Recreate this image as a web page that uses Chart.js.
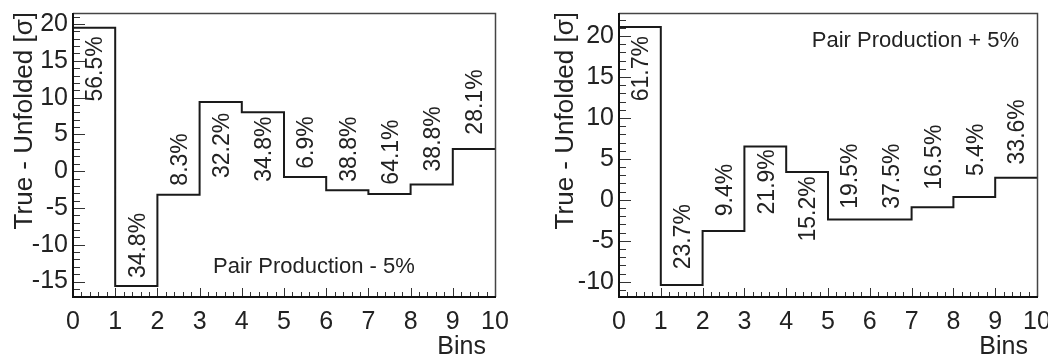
<!DOCTYPE html>
<html><head><meta charset="utf-8">
<script src="https://cdn.jsdelivr.net/npm/chart.js@4.4.1/dist/chart.umd.min.js"></script>
<style>
html,body{margin:0;padding:0;background:#fff;}
#wrap{position:relative;width:1048px;height:360px;overflow:hidden;background:#fff;}
.box{position:absolute;top:0;height:360px;}
</style></head><body>
<div id="wrap">
<div class="box" style="left:0;width:530px"><canvas id="c1" width="530" height="360"></canvas></div>
<div class="box" style="left:530px;width:518px"><canvas id="c2" width="518" height="360"></canvas></div>
</div>
<script>
// ---- data ----
const binEdges = [0,1,2,3,4,5,6,7,8,9,10];
const xTickLabels = ['0','1','2','3','4','5','6','7','8','9','10'];

const leftValues   = [19.5, -15.6, -3.2, 9.4, 8.0, -0.8, -2.6, -3.1, -1.8, 3.0];
const leftPercents = ['56.5%','34.8%','8.3%','32.2%','34.8%','6.9%','38.8%','64.1%','38.8%','28.1%'];
const leftLabelY   = [13.9, -10.1, 1.6, 3.5, 3.0, 3.9, 3.0, 2.6, 4.4, 9.4];
const leftYTicks   = [-15,-10,-5,0,5,10,15,20];
const leftYTickLabels = ['-15','-10','-5','0','5','10','15','20'];
const leftNote = 'Pair Production - 5%';

const rightValues   = [21.1, -10.4, -3.8, 6.5, 3.4, -2.4, -2.4, -0.9, 0.35, 2.7];
const rightPercents = ['61.7%','23.7%','9.4%','21.9%','15.2%','19.5%','37.5%','16.5%','5.4%','33.6%'];
const rightLabelY   = [16.0, -4.5, 1.2, 2.2, -1.1, 2.9, 2.9, 5.2, 6.1, 8.3];
const rightYTicks   = [-10,-5,0,5,10,15,20];
const rightYTickLabels = ['-10','-5','0','5','10','15','20'];
const rightNote = 'Pair Production + 5%';

const yTitle = 'True - Unfolded [\u03c3]';
const xTitle = 'Bins';

const FONT = '"Liberation Sans", Arial, Helvetica, sans-serif';
const TXT = '#222';

function makeChart(id, o) {
  const pts = binEdges.map((b, i) => ({x: b, y: o.values[Math.min(i, o.values.length - 1)]}));
  const decor = {
    id: 'decor',
    afterDatasetsDraw(chart) {
      const ctx = chart.ctx, ca = chart.chartArea, xs = chart.scales.x, ys = chart.scales.y;
      ctx.save();
      // ticks
      ctx.strokeStyle = '#333'; ctx.lineWidth = 1;
      ctx.beginPath();
      for (let v = Math.ceil(ys.min); v <= ys.max; v++) {
        const py = Math.round(ys.getPixelForValue(v)) + 0.5;
        const len = (v % 5 === 0) ? 12 : 7;
        ctx.moveTo(ca.left, py); ctx.lineTo(ca.left + len, py);
      }
      for (let k = 0; k <= 50; k++) {
        const v = k * 0.2;
        const px = Math.round(xs.getPixelForValue(v)) + 0.5;
        const len = (k % 5 === 0) ? 9 : 5;
        ctx.moveTo(px, ca.bottom); ctx.lineTo(px, ca.bottom - len);
      }
      ctx.stroke();
      // frame: top/right thin, left/bottom bold
      ctx.strokeStyle = '#444'; ctx.lineWidth = 1.5;
      ctx.beginPath();
      ctx.moveTo(ca.left, ca.top + 0.5); ctx.lineTo(ca.right + 0.5, ca.top + 0.5); ctx.lineTo(ca.right + 0.5, ca.bottom);
      ctx.stroke();
      ctx.strokeStyle = '#111'; ctx.lineWidth = 2;
      ctx.beginPath();
      ctx.moveTo(ca.left, ca.top); ctx.lineTo(ca.left, ca.bottom); ctx.lineTo(ca.right + 1, ca.bottom);
      ctx.stroke();
      // percent labels
      ctx.fillStyle = TXT;
      ctx.font = '23px ' + FONT;
      ctx.textAlign = 'center'; ctx.textBaseline = 'alphabetic';
      const capH = 23 * 0.716;
      o.percents.forEach((t, i) => {
        const px = xs.getPixelForValue(binEdges[i] + 0.5);
        const py = ys.getPixelForValue(o.labelY[i]);
        ctx.save(); ctx.translate(px, py); ctx.rotate(-Math.PI / 2);
        ctx.fillText(t, 0, capH / 2);
        ctx.restore();
      });
      // note
      ctx.font = '22px ' + FONT;
      ctx.textBaseline = 'middle';
      ctx.textAlign = o.noteAlign;
      ctx.fillText(o.note, o.noteAlign === 'left' ? ca.left + o.noteDx : ca.right + o.noteDx, o.noteY);
      // x title
      ctx.font = '25px ' + FONT;
      ctx.textAlign = 'right'; ctx.textBaseline = 'middle';
      ctx.fillText(xTitle, ca.right - 9, 347);
      // y title
      ctx.save();
      ctx.translate(ca.left - o.titleDx, ca.top - 1);
      ctx.rotate(-Math.PI / 2);
      ctx.font = '26px ' + FONT;
      ctx.textAlign = 'right'; ctx.textBaseline = 'alphabetic';
      ctx.fillText(yTitle, 0, 0);
      ctx.restore();
      ctx.restore();
    }
  };
  return new Chart(document.getElementById(id), {
    type: 'line',
    data: { datasets: [{ data: pts, stepped: 'before', borderColor: '#1a1a1a', borderWidth: 2,
                         pointRadius: 0, fill: false, tension: 0 }] },
    options: {
      responsive: false, animation: false, devicePixelRatio: 1,
      layout: { padding: { top: 13, right: o.rightPad, left: 0, bottom: 0 } },
      plugins: { legend: { display: false }, tooltip: { enabled: false } },
      scales: {
        x: { type: 'linear', min: 0, max: 10,
             border: { display: false }, grid: { display: false, drawTicks: false },
             afterBuildTicks(s) { s.ticks = binEdges.map(v => ({ value: v })); },
             ticks: { padding: 10, autoSkip: false, maxRotation: 0, color: TXT,
                      font: { family: FONT, size: 25 },
                      callback: (v, i) => xTickLabels[i] },
             afterFit(s) { s.height = 63; s.paddingLeft = 0; s.paddingRight = 0; } },
        y: { type: 'linear', min: o.yMin, max: o.yMax,
             border: { display: false }, grid: { display: false, drawTicks: false },
             afterBuildTicks(s) { s.ticks = o.yTicks.map(v => ({ value: v })); },
             ticks: { padding: 5, color: TXT, font: { family: FONT, size: 25 },
                      callback: (v, i) => o.yTickLabels[i] },
             afterFit(s) { s.width = o.yWidth; s.paddingTop = 0; s.paddingBottom = 0; } }
      }
    },
    plugins: [decor]
  });
}

makeChart('c1', { values: leftValues, percents: leftPercents, labelY: leftLabelY,
  yTicks: leftYTicks, yTickLabels: leftYTickLabels, yMin: -17.1, yMax: 21.5,
  yWidth: 73, rightPad: 35, note: leftNote, noteAlign: 'left', noteDx: 140, noteY: 267, titleDx: 41 });

makeChart('c2', { values: rightValues, percents: rightPercents, labelY: rightLabelY,
  yTicks: rightYTicks, yTickLabels: rightYTickLabels, yMin: -11.85, yMax: 22.8,
  yWidth: 89, rightPad: 11, note: rightNote, noteAlign: 'right', noteDx: -18, noteY: 41, titleDx: 46 });
</script>
</body></html>
